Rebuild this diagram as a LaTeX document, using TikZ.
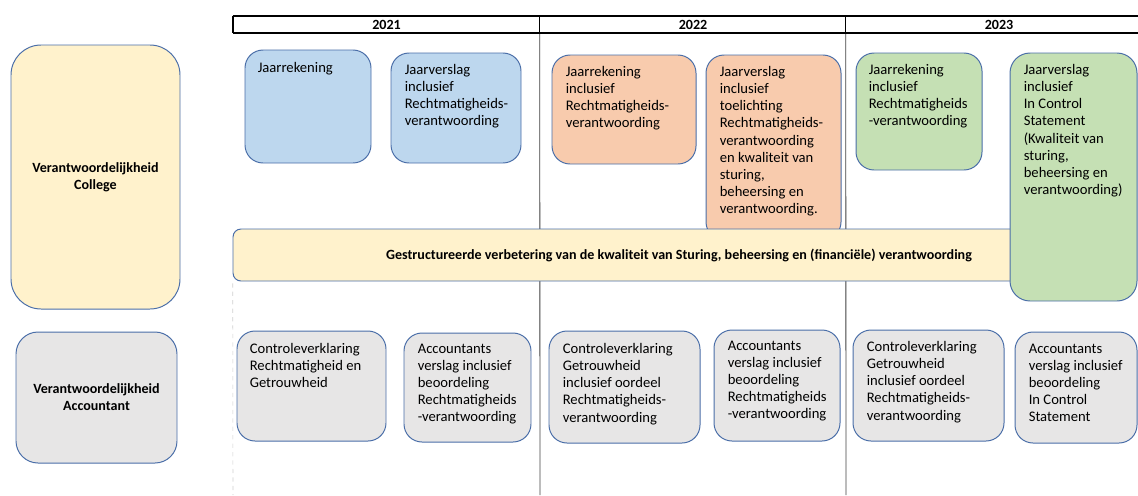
\documentclass[tikz,border=0pt]{standalone}
\usepackage{fontspec}
\setmainfont{Carlito}
\usetikzlibrary{fit}
\definecolor{rand}{HTML}{4A6EA8}
\definecolor{blauw}{HTML}{BDD7EE}
\definecolor{oranje}{HTML}{F8CBAD}
\definecolor{groen}{HTML}{C5E0B4}
\definecolor{geel}{HTML}{FFF2CC}
\definecolor{grijs}{HTML}{E7E6E6}
\definecolor{lijn}{HTML}{404040}
\definecolor{stippel}{HTML}{D0D0D0}

\begin{document}
\begin{tikzpicture}[x=0.025cm,y=-0.025cm,line join=round,
  vak/.style={draw=rand,line width=0.7pt,rounded corners=0.45cm,inner sep=0pt},
  tekst/.style={anchor=north west,align=left,inner sep=0pt,font=\fontsize{10.4}{12.1}\selectfont},
  vet/.style={align=center,inner sep=0pt,font=\fontsize{10}{12}\selectfont\bfseries},
  kop/.style={inner sep=0pt}]
\useasboundingbox (0,0) rectangle (1138,495);

% jaren
\node[kop,fit={(233,16) (540,33)}] (j21) {};
\node[kop,fit={(540,16) (846,33)}] (j22) {};
\node[kop,fit={(846,16) (1152,33)}] (j23) {};
\node[vet] (tj21) at (j21.center) {2021};
\node[vet] (tj22) at (j22.center) {2022};
\node[vet] (tj23) at (j23.center) {2023};
\coordinate (o21) at (233,495);
\coordinate (o22) at (540,495);
\coordinate (o23) at (846,495);
\draw[stippel,dashed] (j21.south west) ++(0,250) -- (o21);
\draw[lijn,line width=0.6pt] (j22.south west) -- (o22);
\draw[lijn,line width=0.6pt] (j23.south west) -- (o23);
\draw[line width=1.2pt] (j21.north west) -- (j23.north east);
\draw[line width=1.2pt] (j21.south west) -- (j23.south east);
\draw[line width=1.2pt] (j21.north west) -- (j21.south west);
\draw[line width=0.8pt] (j22.north west) -- (j22.south west);
\draw[line width=0.8pt] (j23.north west) -- (j23.south west);

% verantwoordelijkheden
\node[vak,fill=geel,rounded corners=0.75cm,fit={(11,45) (180,309)}] (college) {};
\node[vet] (tcollege) at (college.center) {Verantwoordelijkheid\\College};
\node[vak,fill=grijs,rounded corners=0.55cm,fit={(16,332) (177,463)}] (accountant) {};
\node[vet] (taccountant) at (accountant.center) {Verantwoordelijkheid\\Accountant};

% college
\node[vak,fill=blauw,fit={(245,50) (371,163)}] (jr21) {};
\node[tekst] (tjr21) at ([shift={(13,13)}]jr21.north west) {Jaarrekening};
\node[vak,fill=blauw,fit={(391,53) (521,163)}] (jv21) {};
\node[tekst] (tjv21) at ([shift={(14,12)}]jv21.north west) {Jaarverslag\\inclusief\\Rechtmatigheids-\\verantwoording};
\node[vak,fill=oranje,fit={(552,55) (696,164)}] (jr22) {};
\node[tekst] (tjr22) at ([shift={(14,12)}]jr22.north west) {Jaarrekening\\inclusief\\Rechtmatigheids-\\verantwoording};
\node[vak,fill=oranje,fit={(706,55) (841,240)}] (jv22) {};
\node[tekst] (tjv22) at ([shift={(14,12)}]jv22.north west) {Jaarverslag\\inclusief\\toelichting\\Rechtmatigheids-\\verantwoording\\en kwaliteit van\\sturing,\\beheersing en\\verantwoording.};
\node[vak,fill=groen,fit={(856,53) (982,170)}] (jr23) {};
\node[tekst] (tjr23) at ([shift={(13,12)}]jr23.north west) {Jaarrekening\\inclusief\\Rechtmatigheids\\-verantwoording};

\node[vak,fill=geel,rounded corners=0.2cm,fit={(233,229) (1125,281)}] (sturing) {};
\node[vet] (tsturing) at (sturing.center) {Gestructureerde verbetering van de kwaliteit van Sturing, beheersing en (financiële) verantwoording};

\node[vak,fill=groen,rounded corners=0.5cm,fit={(1010,53) (1137,301)}] (jv23) {};
\node[tekst] (tjv23) at ([shift={(14,12)}]jv23.north west) {Jaarverslag\\inclusief\\In Control\\Statement\\(Kwaliteit van\\sturing,\\beheersing en\\verantwoording)};

% accountant
\node[vak,fill=grijs,fit={(237,331) (386,441)}] (cv21) {};
\node[tekst] (tcv21) at ([shift={(13,13)}]cv21.north west) {Controleverklaring\\Rechtmatigheid en\\Getrouwheid};
\node[vak,fill=grijs,fit={(404,333) (531,442)}] (av21) {};
\node[tekst] (tav21) at ([shift={(14,11)}]av21.north west) {Accountants\\verslag inclusief\\beoordeling\\Rechtmatigheids\\-verantwoording};
\node[vak,fill=grijs,fit={(549,331) (700,443)}] (cv22) {};
\node[tekst] (tcv22) at ([shift={(14,13)}]cv22.north west) {Controleverklaring\\Getrouwheid\\inclusief oordeel\\Rechtmatigheids-\\verantwoording};
\node[vak,fill=grijs,fit={(714,330) (840,441)}] (av22) {};
\node[tekst] (tav22) at ([shift={(14,11)}]av22.north west) {Accountants\\verslag inclusief\\beoordeling\\Rechtmatigheids\\-verantwoording};
\node[vak,fill=grijs,fit={(853,330) (1004,441)}] (cv23) {};
\node[tekst] (tcv23) at ([shift={(14,12)}]cv23.north west) {Controleverklaring\\Getrouwheid\\inclusief oordeel\\Rechtmatigheids-\\verantwoording};
\node[vak,fill=grijs,fit={(1015,332) (1137,443)}] (av23) {};
\node[tekst] (tav23) at ([shift={(14,12)}]av23.north west) {Accountants\\verslag inclusief\\beoordeling\\In Control\\Statement};
\end{tikzpicture}
\end{document}
